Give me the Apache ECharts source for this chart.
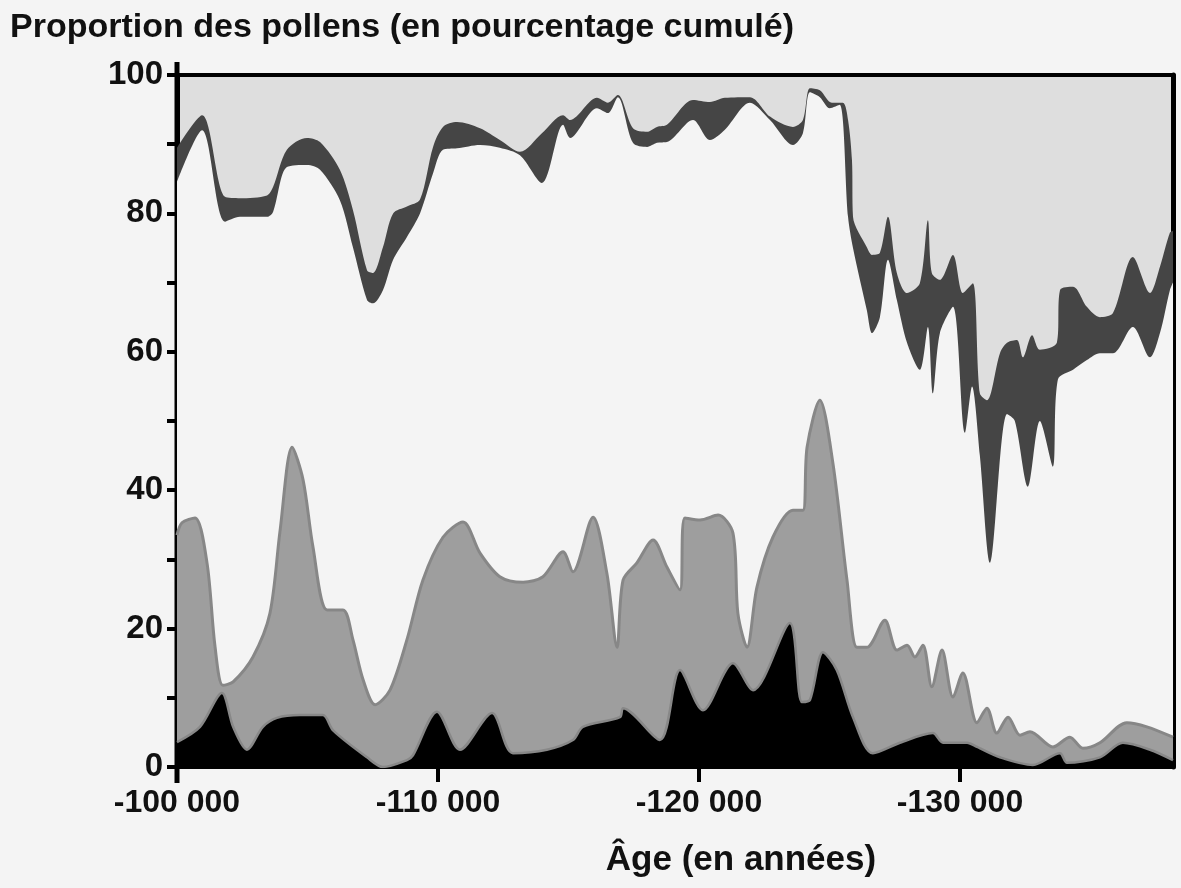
<!DOCTYPE html>
<html>
<head>
<meta charset="utf-8">
<title>Proportion des pollens</title>
<script src="https://cdn.jsdelivr.net/npm/echarts@6/dist/echarts.min.js"></script>
<style>
  html, body { margin: 0; padding: 0; background: #f4f4f4; }
  #chart { width: 1181px; height: 888px; }
</style>
</head>
<body>
<div id="chart"></div>
<script>
// cumulative pollen percentages (age in years before present)
let bandTopAge = [100000, 100960, 101840, 102410, 103450, 103680, 104210, 104980, 105480, 106240, 106740, 107280, 107510, 107890, 108280, 108810, 109310, 109810, 110190, 110730, 111610, 112370, 113140, 113980, 114790, 115060, 116090, 116510, 116890, 117470, 118010, 118390, 118770, 119770, 120420, 120990, 121950, 122720, 123600, 123980, 124250, 124630, 125090, 125510, 125710, 125860, 125900, 126430, 126630, 126930, 127240, 127580, 127970, 128460, 128770, 128920, 129230, 129730, 130110, 130490, 130760, 131030, 131530, 131800, 132180, 132410, 132760, 133060, 133710, 133830, 134330, 134860, 135360, 135860, 136620, 137280, 137660, 138040, 138160];
let bandTop = [89.5, 94.2, 82.4, 82.2, 82.6, 83.8, 89.2, 90.9, 90.3, 86.3, 80.5, 71.8, 71.4, 75.1, 80.0, 81.0, 82.0, 89.6, 92.5, 93.2, 92.3, 90.6, 88.9, 91.6, 94.2, 93.5, 96.7, 96.0, 97.1, 92.3, 91.8, 92.5, 92.8, 96.4, 96.1, 96.7, 96.8, 94.0, 92.5, 93.5, 98.1, 97.8, 96.0, 96.0, 93.5, 87.7, 79.5, 75.1, 74.0, 74.3, 79.5, 71.4, 68.5, 69.9, 79.0, 71.4, 70.4, 74.0, 68.5, 69.9, 54.0, 53.0, 59.8, 61.3, 61.7, 59.2, 62.4, 60.3, 61.3, 68.9, 69.4, 66.5, 65.0, 65.6, 73.7, 68.5, 72.3, 77.2, 77.5];

let bandBottomAge = [100000, 100960, 101840, 102410, 103450, 103680, 104210, 104980, 105480, 106240, 106740, 107280, 107510, 107890, 108280, 108810, 109310, 109810, 110190, 110730, 111610, 112370, 113140, 113980, 114790, 115060, 116090, 116510, 116890, 117470, 118010, 118390, 118770, 119770, 120420, 120990, 121950, 122720, 123600, 123980, 124250, 124630, 125010, 125390, 125710, 125900, 126430, 126630, 126930, 127240, 127580, 127970, 128460, 128770, 128960, 129230, 129730, 130190, 130460, 130760, 131150, 131800, 132100, 132600, 133060, 133560, 133750, 134330, 134860, 135360, 135860, 136620, 137280, 137660, 138040, 138160];
let bandBottom = [84.5, 92.0, 78.8, 79.5, 79.5, 80.2, 86.7, 87.0, 86.3, 81.9, 75.1, 67.5, 67.0, 68.9, 73.3, 76.6, 80.0, 85.8, 89.2, 89.4, 89.9, 89.5, 88.4, 84.4, 92.8, 90.9, 95.2, 94.5, 96.8, 90.2, 89.6, 90.2, 90.3, 93.5, 90.6, 92.1, 96.0, 93.5, 89.9, 91.6, 97.5, 96.8, 95.2, 95.7, 79.5, 75.0, 66.0, 62.7, 65.0, 73.3, 67.5, 61.3, 57.4, 63.6, 54.0, 62.7, 66.5, 48.3, 55.0, 45.0, 29.5, 51.0, 50.0, 40.5, 50.0, 43.4, 56.0, 57.4, 58.8, 59.8, 59.8, 63.6, 59.2, 62.7, 68.9, 70.0];

let grayTopAge = [100000, 100190, 100690, 101150, 101460, 101760, 102150, 102910, 103560, 103950, 104410, 104830, 105210, 105750, 106360, 106740, 107130, 107590, 108160, 108810, 109420, 110190, 110960, 111610, 112370, 113260, 114020, 114790, 115170, 115940, 116470, 116860, 117090, 117620, 118240, 118770, 119270, 119460, 120040, 120730, 121300, 121490, 121840, 122220, 122830, 123600, 123980, 124140, 124630, 125130, 125670, 126050, 126430, 127120, 127580, 127970, 128270, 128580, 128920, 129310, 129730, 130110, 130650, 131030, 131410, 131840, 132300, 132680, 133560, 134210, 134710, 135360, 136390, 137160, 138160];
let grayTop = [33.5, 35.3, 36.0, 29.5, 17.3, 11.8, 12.3, 15.9, 22.2, 34.2, 46.2, 41.5, 31.8, 22.7, 22.7, 18.4, 12.6, 9.0, 11.1, 18.4, 27.0, 33.2, 35.4, 30.9, 27.5, 26.7, 27.5, 31.1, 28.2, 36.1, 28.0, 17.3, 27.0, 29.5, 32.8, 28.9, 25.6, 36.0, 35.7, 36.4, 33.8, 22.2, 17.3, 26.0, 33.2, 37.1, 37.1, 46.2, 53.0, 43.9, 27.0, 17.3, 17.3, 21.2, 16.9, 17.6, 15.9, 17.6, 11.6, 16.9, 10.1, 13.6, 6.4, 8.5, 4.9, 7.2, 4.6, 5.1, 2.9, 4.3, 2.7, 3.5, 6.4, 5.8, 4.3];

let blackTopAge = [100000, 100880, 101720, 102150, 102680, 103290, 103830, 104710, 105590, 105980, 107280, 107890, 108810, 109040, 109960, 110840, 112070, 112870, 114170, 115170, 115550, 116970, 117090, 118500, 119270, 120150, 121300, 122070, 123480, 123940, 124250, 124750, 125280, 125900, 126660, 127700, 128960, 129350, 130270, 130650, 131530, 132790, 133830, 134100, 135360, 136240, 137280, 138160];
let blackTop = [3.6, 5.8, 10.7, 5.8, 2.5, 5.8, 7.1, 7.5, 7.5, 5.3, 1.4, 0.0, 1.0, 1.7, 8.0, 2.5, 7.8, 2.0, 2.5, 3.9, 5.8, 7.2, 8.5, 3.9, 14.0, 8.2, 15.0, 11.1, 20.8, 9.4, 9.7, 16.6, 14.0, 7.2, 2.0, 3.5, 4.9, 3.5, 3.5, 2.9, 1.4, 0.3, 2.0, 0.6, 1.4, 3.5, 2.5, 1.0];

let yTicks = [0, 20, 40, 60, 80, 100];
let ageTicks = [100000, 110000, 120000, 130000];

let font = '"Liberation Sans", Arial, sans-serif';

function pairs(ages, vals) {
  let out = [];
  for (let i = 0; i < ages.length; i++) {
    out.push([ages[i], vals[i]]);
  }
  return out;
}

function ageLabel(v) {
  if (ageTicks.indexOf(v) < 0) return '';
  let s = String(v);
  return '-' + s.slice(0, s.length - 3) + ' ' + s.slice(s.length - 3);
}

function layer(name, ages, vals, fill, line, lineWidth) {
  return {
    name: name,
    type: 'line',
    data: pairs(ages, vals),
    symbol: 'none',
    smooth: 0.3,
    lineStyle: { color: line, width: lineWidth },
    areaStyle: { color: fill, opacity: 1, origin: 'start' },
    silent: true
  };
}

let chart = echarts.init(document.getElementById('chart'));

let option = {
  backgroundColor: '#f4f4f4',
  animation: false,
  title: {
    text: 'Proportion des pollens (en pourcentage cumulé)',
    left: 10,
    top: 11,
    padding: 0,
    textStyle: { fontFamily: font, fontWeight: 'bold', fontSize: 34, color: '#111' }
  },
  grid: {
    left: 177,
    right: 8,
    top: 75,
    bottom: 121,
    show: true,
    backgroundColor: '#dedede',
    borderWidth: 0,
    outerBoundsMode: 'none'
  },
  xAxis: [{
    type: 'value',
    min: 100000,
    max: 138160,
    interval: 10000,
    position: 'bottom',
    splitLine: { show: false },
    axisLine: { show: true, onZero: false, lineStyle: { color: '#000', width: 4 } },
    axisTick: { show: true, inside: false, length: 15, lineStyle: { color: '#000', width: 4 } },
    axisLabel: {
      formatter: ageLabel,
      showMaxLabel: false,
      margin: 20,
      fontFamily: font, fontWeight: 'bold', fontSize: 32, color: '#111'
    },
    name: 'Âge (en années)',
    nameLocation: 'middle',
    nameGap: 76,
    nameTextStyle: {
      fontFamily: font, fontWeight: 'bold', fontSize: 35, color: '#111',
      padding: [0, 0, 0, 132]
    }
  }, {
    type: 'value',
    min: 100000,
    max: 138160,
    position: 'top',
    splitLine: { show: false },
    axisLine: { show: true, onZero: false, lineStyle: { color: '#000', width: 4 } },
    axisTick: { show: false },
    axisLabel: { show: false }
  }],
  yAxis: [{
    type: 'value',
    min: 0,
    max: 100,
    interval: 10,
    splitLine: { show: false },
    axisLine: { show: true, onZero: false, lineStyle: { color: '#000', width: 5 } },
    axisTick: { show: true, inside: false, length: 10, lineStyle: { color: '#000', width: 4 } },
    axisLabel: {
      formatter: function (v) { return yTicks.indexOf(v) >= 0 ? String(v) : ''; },
      margin: 14,
      fontFamily: font, fontWeight: 'bold', fontSize: 33, color: '#111'
    }
  }, {
    type: 'value',
    min: 0,
    max: 100,
    position: 'right',
    splitLine: { show: false },
    axisLine: { show: true, onZero: false, lineStyle: { color: '#000', width: 5 } },
    axisTick: { show: false },
    axisLabel: { show: false }
  }],
  series: [
    layer('bande sombre', bandTopAge, bandTop, '#454545', '#454545', 0),
    layer('fond', bandBottomAge, bandBottom, '#f4f4f4', '#f4f4f4', 0),
    layer('gris', grayTopAge, grayTop, '#9e9e9e', '#878787', 3),
    layer('noir', blackTopAge, blackTop, '#000000', '#888888', 2.5)
  ]
};

chart.setOption(option);

// the left axis line runs a little past the frame, top and bottom
let axisX = chart.convertToPixel({ xAxisIndex: 0 }, 100000);
let y100 = chart.convertToPixel({ yAxisIndex: 0 }, 100);
let y0 = chart.convertToPixel({ yAxisIndex: 0 }, 0);
chart.setOption({
  graphic: [{
    type: 'line',
    shape: { x1: axisX, y1: y100 - 13, x2: axisX, y2: y0 + 16 },
    style: { stroke: '#000', lineWidth: 5 },
    silent: true
  }]
});
</script>
</body>
</html>
